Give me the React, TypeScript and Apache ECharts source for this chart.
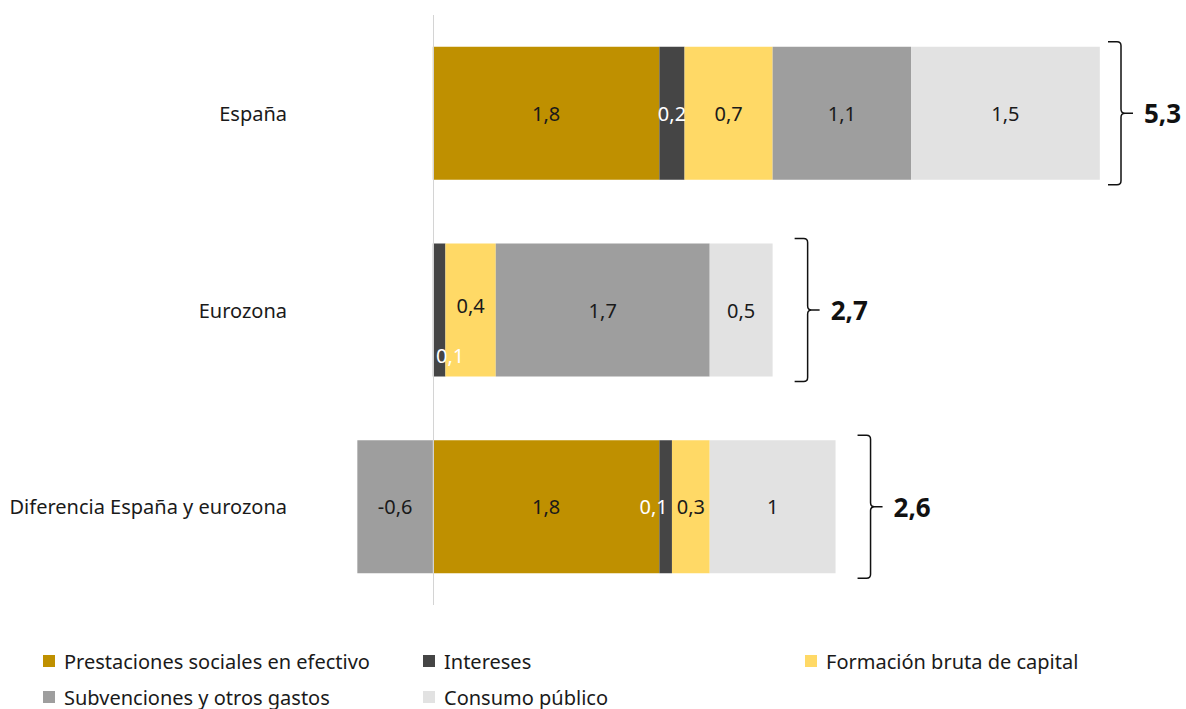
import React, { useEffect, useRef } from "react";
import * as echarts from "echarts";

const categories = ["España", "Eurozona", "Diferencia España y eurozona"];
const prestaciones = [1.8, 0, 1.8];
const intereses = [0.2, 0.1, 0.1];
const formacion = [0.7, 0.4, 0.3];
const subvenciones = [1.1, 1.7, -0.6];
const consumo = [1.5, 0.5, 1.0];
const totals = [5.3, 2.7, 2.6];

const seriesNames = [
  "Prestaciones sociales en efectivo",
  "Intereses",
  "Formación bruta de capital",
  "Subvenciones y otros gastos",
  "Consumo público",
];
const colors = ["#BF9000", "#454545", "#FFD966", "#9E9E9E", "#E2E2E2"];

const FONT = "Noto Sans";
const BAR_W = 133;

const fmt = (v: number) => (v === 0 ? "" : String(v).replace(".", ","));

export default function App() {
  const ref = useRef<HTMLDivElement>(null);
  useEffect(() => {
    if (!ref.current) return;
    const chart = echarts.init(ref.current, undefined, { renderer: "svg" });
    const allSeries = [prestaciones, intereses, formacion, subvenciones, consumo];
    const positiveEnds = categories.map((_, i) =>
      allSeries.reduce((s, arr) => s + (arr[i] > 0 ? arr[i] : 0), 0)
    );

    const labelBase = {
      show: true,
      position: "inside",
      fontFamily: FONT,
      fontSize: 20,
      color: "#1a1a1a",
      formatter: (p: any) => fmt(typeof p.value === "object" ? p.value.value : p.value),
    };

    const makeData = (arr: number[], idx: number) =>
      arr.map((v, i) => {
        if (idx === 1 && i === 1) return { value: v, label: { offset: [11, 45] } };
        if (idx === 1 && i === 2) return { value: v, label: { offset: [-12, 0] } };
        if (idx === 2 && i === 1) return { value: v, label: { offset: [0, -5] } };
        return v;
      });

    const barSeries = allSeries.map((arr, idx) => ({
      name: seriesNames[idx],
      type: "bar",
      stack: "total",
      barWidth: BAR_W,
      data: makeData(arr, idx),
      itemStyle: { color: colors[idx] },
      label: { ...labelBase, color: idx === 1 ? "#ffffff" : "#1a1a1a" },
      ...(idx === 0
        ? {
            markLine: {
              silent: true,
              symbol: "none",
              label: { show: false },
              lineStyle: { color: "#d4d4d4", width: 1, type: "solid" },
              data: [{ xAxis: 0 }],
            },
          }
        : {}),
    }));

    const braceSeries = {
      type: "custom",
      name: "totales",
      data: categories.map((_, i) => [positiveEnds[i], i, totals[i]]),
      encode: { x: 0, y: 1 },
      renderItem: (params: any, api: any) => {
        const pt = api.coord([api.value(0), api.value(1)]);
        const cy = pt[1];
        const half = BAR_W / 2 + 5;
        const x0 = Math.min(pt[0] + 22, api.getWidth() - 78);
        const x1 = x0 + 13;
        const top = cy - half;
        const bot = cy + half;
        const d =
          `M${x0},${top} L${x1 - 4},${top} Q${x1},${top} ${x1},${top + 4} ` +
          `L${x1},${cy - 4} Q${x1},${cy} ${x1 + 4},${cy} L${x1 + 12},${cy} ` +
          `M${x1 + 4},${cy} Q${x1},${cy} ${x1},${cy + 4} ` +
          `L${x1},${bot - 4} Q${x1},${bot} ${x1 - 4},${bot} L${x0},${bot}`;
        return {
          type: "group",
          children: [
            {
              type: "path",
              shape: { pathData: d },
              style: { stroke: "#111111", lineWidth: 1.5, fill: "none" },
            },
            {
              type: "text",
              style: {
                text: fmt(api.value(2)),
                x: x1 + 23,
                y: cy,
                align: "left",
                verticalAlign: "middle",
                font: `bold 26px "${FONT}"`,
                fill: "#111111",
              },
            },
          ],
        };
      },
    };

    const legendBase = {
      orient: "vertical",
      top: 651,
      padding: 0,
      itemWidth: 12,
      itemHeight: 12,
      itemGap: 16,
      icon: "rect",
      textStyle: {
        fontFamily: FONT,
        fontSize: 20,
        lineHeight: 20,
        color: "#1a1a1a",
        padding: [0, 0, 0, 4],
      },
    };

    chart.setOption({
      animation: false,
      backgroundColor: "#ffffff",
      textStyle: { fontFamily: FONT },
      grid: { left: 307, right: 61, top: 15, bottom: 104 },
      xAxis: {
        type: "value",
        min: -1,
        max: 5.5,
        show: false,
      },
      yAxis: {
        type: "category",
        inverse: true,
        data: categories,
        axisLine: { show: false },
        axisTick: { show: false },
        axisLabel: { margin: 20, fontFamily: FONT, fontSize: 20, color: "#1a1a1a" },
      },
      legend: [
        { ...legendBase, left: 43, data: [seriesNames[0], seriesNames[3]] },
        { ...legendBase, left: 423, data: [seriesNames[1], seriesNames[4]] },
        { ...legendBase, left: 805, data: [seriesNames[2]] },
      ],
      series: [...barSeries, braceSeries],
    });
    return () => chart.dispose();
  }, []);

  return (
    <div
      ref={ref}
      style={{ position: "fixed", left: 0, top: 0, width: 1186, height: 709 }}
    />
  );
}
